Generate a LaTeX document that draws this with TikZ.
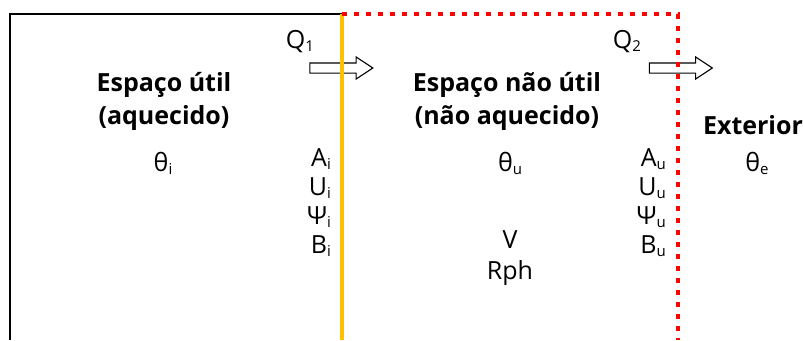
\documentclass[tikz,border=0pt]{standalone}
\usepackage{fontspec}
\setmainfont{Open Sans}
\usetikzlibrary{shapes.arrows}
\definecolor{wallgold}{HTML}{FFC000}
\definecolor{wallred}{HTML}{FF0000}
\newcommand{\idx}[1]{\raisebox{-3pt}{\fontsize{15}{15}\selectfont #1}}

\begin{document}
\begin{tikzpicture}[x=1pt, y=-1pt, font=\fontsize{25}{33}\selectfont]
\useasboundingbox (0,0) rectangle (803,340);

% heat flow arrows (walls are drawn over them)
\tikzstyle{every node}=[single arrow, draw, fill=white, line width=1.1pt, minimum height=63pt, inner sep=4.5pt, single arrow head extend=6pt, single arrow tip angle=67]
\draw (337.5, 68) node (flow1) {}
      (677,   68) node (flow2) {};

% walls
\coordinate (inBot) at (10, 340);
\coordinate (inTop) at (10, 14);
\coordinate (midTop) at (342, 14);
\coordinate (midBot) at (342, 340);
\coordinate (extTop) at (678, 14);
\coordinate (extBot) at (678, 340);

\draw [line width=1.5pt] (inBot) -- (inTop) -- (midTop);
\draw [draw=wallgold, line width=4.5pt] (midTop) -- (midBot);
\draw [draw=wallred, line width=4.5pt, dash pattern=on 5pt off 7pt] (midTop) -- (extTop) -- (extBot);

% labels
\tikzstyle{every node}=[inner sep=0pt, align=center]
\draw (300, 42) node (q1) {Q\idx{1}}
      (627, 42) node (q2) {Q\idx{2}};

\tikzstyle{every node}=[inner sep=0pt, align=center, font=\fontsize{25}{33}\selectfont\bfseries]
\draw (164, 101) node (util) {Espaço útil\\(aquecido)}
      (507, 101) node (naoutil) {Espaço não útil\\(não aquecido)}
      (753, 125) node (ext) {Exterior};

\tikzstyle{every node}=[inner sep=0pt]
\draw (163, 163) node (thi) {θ\idx{i}}
      (510, 163) node (thu) {θ\idx{u}}
      (757, 163) node (the) {θ\idx{e}}
      (510, 240) node (vol) {V}
      (510, 273) node (rph) {Rph};

\tikzstyle{every node}=[inner sep=0pt, anchor=east]
\draw (331, 159) node (ai) {A\idx{i}}
      (331, 188) node (ui) {U\idx{i}}
      (331, 217) node (psii) {Ψ\idx{i}}
      (331, 246) node (bi) {B\idx{i}}
      (666, 159) node (au) {A\idx{u}}
      (666, 188) node (uu) {U\idx{u}}
      (666, 217) node (psiu) {Ψ\idx{u}}
      (666, 246) node (bu) {B\idx{u}};

\end{tikzpicture}
\end{document}
